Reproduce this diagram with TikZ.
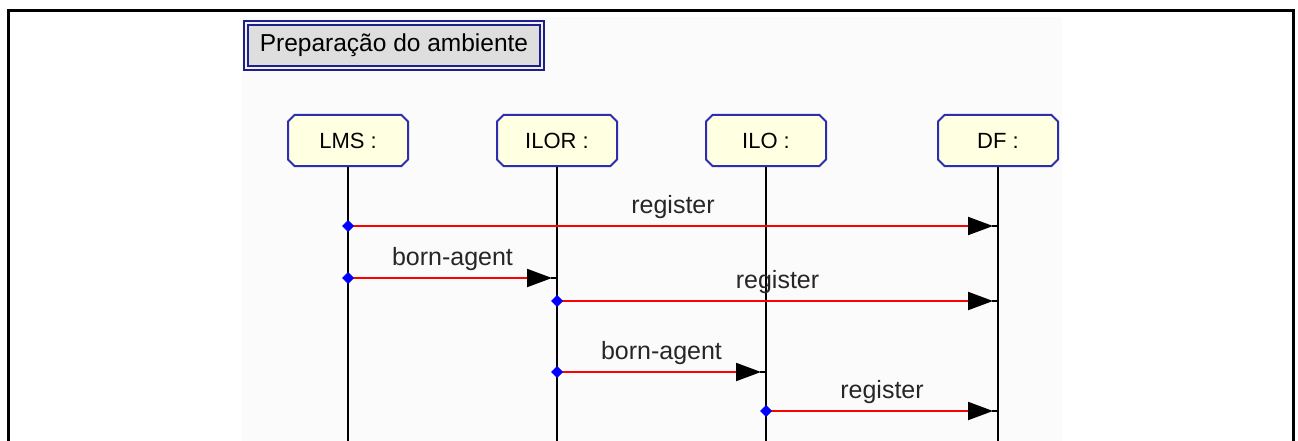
\documentclass[tikz,border=0pt]{standalone}
\usepackage{fontspec}
\setmainfont{Liberation Sans}
\usetikzlibrary{arrows.meta,shapes.misc}
\definecolor{headfill}{RGB}{255,255,225}
\definecolor{headline}{RGB}{45,45,175}
\definecolor{titleline}{RGB}{30,30,140}
\definecolor{titlefill}{RGB}{222,222,222}
\definecolor{panel}{RGB}{251,251,251}
\begin{document}
\begin{tikzpicture}[x=1pt,y=-1pt,
    head/.style={chamfered rectangle,chamfered rectangle xsep=3pt,
      draw=headline,fill=headfill,line width=2pt,minimum width=120pt,minimum height=51pt,
      inner sep=0pt,font=\fontsize{22}{26}\selectfont},
    msg/.style={red,line width=2pt,-{Triangle[length=25pt,width=18pt,black]},shorten >=5pt},
    lbl/.style={midway,above=3pt,font=\fontsize{25}{29}\selectfont,text=black!85}]
  \useasboundingbox (0,0) rectangle (1298,441);
  % frame and panel
  \fill[panel] (242,17) rectangle (1062,441);
  \draw[line width=3pt] (8,441) -- (8,11) -- (1293,11) -- (1293,441);
  % title
  \node[draw=titleline,double=titlefill!40!white,double distance=2pt,line width=2pt,
    fill=titlefill,minimum width=296pt,minimum height=45pt,inner sep=0pt,
    font=\fontsize{24.5}{28}\selectfont] (title) at (394,45.5) {Preparação do ambiente};
  % lifelines
  \node[head] (lms)  at (348,140.5) {LMS :};
  \node[head] (ilor) at (557,140.5) {ILOR :};
  \node[head] (ilo)  at (766,140.5) {ILO :};
  \node[head] (df)   at (998,140.5) {DF :};
  \foreach \h in {lms,ilor,ilo,df}{
    \coordinate (\h-end) at (\h.south |- 0,441);
    \draw[line width=2pt] (\h.south) -- (\h-end);
  }
  % messages
  \coordinate (m1a) at (lms.south |- 0,226);  \coordinate (m1b) at (df.south |- 0,226);
  \coordinate (m2a) at (lms.south |- 0,278);  \coordinate (m2b) at (ilor.south |- 0,278);
  \coordinate (m3a) at (ilor.south |- 0,301); \coordinate (m3b) at (df.south |- 0,301);
  \coordinate (m4a) at (ilor.south |- 0,372); \coordinate (m4b) at (ilo.south |- 0,372);
  \coordinate (m5a) at (ilo.south |- 0,411);  \coordinate (m5b) at (df.south |- 0,411);
  \draw[msg] (m1a) -- (m1b) node[lbl] {register};
  \draw[msg] (m2a) -- (m2b) node[lbl] {born-agent};
  \draw[msg] (m3a) -- (m3b) node[lbl] {register};
  \draw[msg] (m4a) -- (m4b) node[lbl] {born-agent};
  \draw[msg] (m5a) -- (m5b) node[lbl] {register};
  \foreach \m in {m1,m2,m3,m4,m5}{
    \draw[line width=2pt] ([xshift=-6pt]\m b) -- (\m b);
    \fill[blue] (\m a) ++(-6,0) -- ++(6,-6) -- ++(6,6) -- ++(-6,6) -- cycle;
  }
\end{tikzpicture}
\end{document}
